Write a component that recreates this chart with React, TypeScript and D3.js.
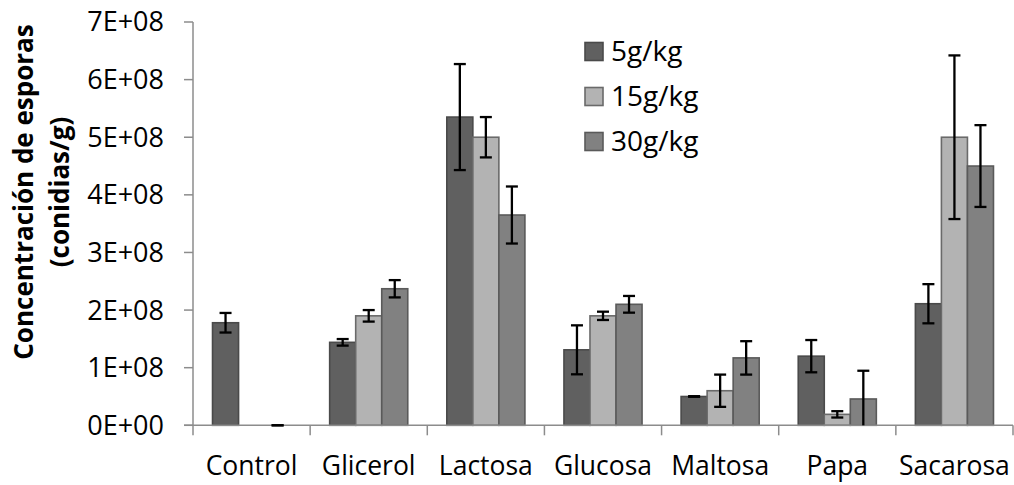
import React from 'react';
import * as d3 from 'd3';

// values in units of 1E+08 conidias/g
const categories = ['Control', 'Glicerol', 'Lactosa', 'Glucosa', 'Maltosa', 'Papa', 'Sacarosa'];
const seriesNames = ['5g/kg', '15g/kg', '30g/kg'];
const values5 = [1.78, 1.44, 5.35, 1.31, 0.5, 1.2, 2.11];
const values15 = [0, 1.9, 5.0, 1.9, 0.6, 0.19, 5.0];
const values30 = [0, 2.37, 3.65, 2.1, 1.17, 0.457, 4.5];
const err5 = [0.17, 0.057, 0.92, 0.425, 0.005, 0.28, 0.34];
const err15 = [null, 0.1, 0.35, 0.072, 0.28, 0.055, 1.42];
const err30 = [0, 0.15, 0.495, 0.145, 0.29, 0.49, 0.71];
const yTicks = [0, 1, 2, 3, 4, 5, 6, 7];

const fills = ['#606060', '#b3b3b3', '#818181'];
const strokes = ['#4a4a4a', '#6a6a6a', '#5a5a5a'];
const axisColor = '#8c8c8c';
const font = '"Open Sans", sans-serif';

const W = 1014;
const H = 485;
const margin = { top: 22, right: 1, bottom: 59.7, left: 193 };

export default function App() {
  const x = d3.scaleBand<string>()
    .domain(categories)
    .range([margin.left, W - margin.right])
    .paddingInner(0)
    .paddingOuter(0);

  const xs = d3.scaleBand<string>()
    .domain(seriesNames)
    .range([0, x.bandwidth()])
    .paddingInner(0)
    .paddingOuter(0.75);

  const y = d3.scaleLinear()
    .domain([0, 7])
    .range([H - margin.bottom, margin.top]);

  const series = [
    { name: seriesNames[0], vals: values5, errs: err5 },
    { name: seriesNames[1], vals: values15, errs: err15 },
    { name: seriesNames[2], vals: values30, errs: err30 },
  ];

  const y0 = y(0);
  const fmt = (d: number) => (d === 0 ? '0E+00' : `${d}E+08`);
  const capW = 6;

  return (
    <svg width={W} height={H} style={{ position: 'absolute', left: 0, top: 0, background: '#fff' }}>
      {/* bars */}
      {series.map((s, si) => (
        <g key={s.name}>
          {categories.map((c, ci) => {
            const v = s.vals[ci];
            if (!v) return null;
            const bx = (x(c) as number) + (xs(s.name) as number);
            return (
              <rect
                key={c}
                x={bx}
                y={y(v)}
                width={xs.bandwidth()}
                height={y0 - y(v)}
                fill={fills[si]}
                stroke={strokes[si]}
                strokeWidth={1.6}
              />
            );
          })}
        </g>
      ))}

      {/* axes */}
      <line x1={margin.left} x2={margin.left} y1={y(7)} y2={y0 + 10} stroke={axisColor} strokeWidth={1.5} />
      <line x1={margin.left - 9} x2={W - margin.right} y1={y0} y2={y0} stroke={axisColor} strokeWidth={1.5} />
      {yTicks.map(t => (
        <g key={t}>
          <line x1={margin.left - 9} x2={margin.left} y1={y(t)} y2={y(t)} stroke={axisColor} strokeWidth={1.5} />
          <text x={margin.left - 29} y={y(t)} dy="0.35em" textAnchor="end" fontFamily={font} fontSize={27} fill="#000">
            {fmt(t)}
          </text>
        </g>
      ))}
      {categories.map(c => (
        <line key={c} x1={(x(c) as number) + x.bandwidth()} x2={(x(c) as number) + x.bandwidth()} y1={y0} y2={y0 + 10} stroke={axisColor} strokeWidth={1.5} />
      ))}
      {categories.map(c => (
        <text key={c} x={(x(c) as number) + x.bandwidth() / 2} y={475} textAnchor="middle" fontFamily={font} fontSize={26.5} fill="#000">
          {c}
        </text>
      ))}

      {/* error bars */}
      {series.map(s => (
        <g key={s.name} stroke="#000" strokeWidth={2.3}>
          {categories.map((c, ci) => {
            const e = s.errs[ci];
            if (e === null || e === undefined) return null;
            const v = s.vals[ci];
            const cx = (x(c) as number) + (xs(s.name) as number) + xs.bandwidth() / 2;
            const hi = y(v + e);
            const lo = y(Math.max(0, v - e));
            const lowClipped = v - e < 0;
            return (
              <g key={c}>
                <line x1={cx} x2={cx} y1={hi} y2={lo} />
                <line x1={cx - capW} x2={cx + capW} y1={hi} y2={hi} />
                {!lowClipped && <line x1={cx - capW} x2={cx + capW} y1={lo} y2={lo} />}
              </g>
            );
          })}
        </g>
      ))}

      {/* legend */}
      {seriesNames.map((n, i) => (
        <g key={n} transform={`translate(585, ${42.5 + i * 45})`}>
          <rect x={0} y={0} width={18} height={18} fill={fills[i]} stroke={strokes[i]} strokeWidth={1.6} />
          <text x={26} y={9} dy="0.35em" fontFamily={font} fontSize={28} fill="#000">{n}</text>
        </g>
      ))}

      {/* y title */}
      <g transform={`translate(0, 192) rotate(-90)`} fontFamily={font} fontWeight="bold" fontSize={26} textAnchor="middle" fill="#000">
        <text x={0} y={33}>Concentración de esporas</text>
        <text x={0} y={69}>(conidias/g)</text>
      </g>
    </svg>
  );
}
